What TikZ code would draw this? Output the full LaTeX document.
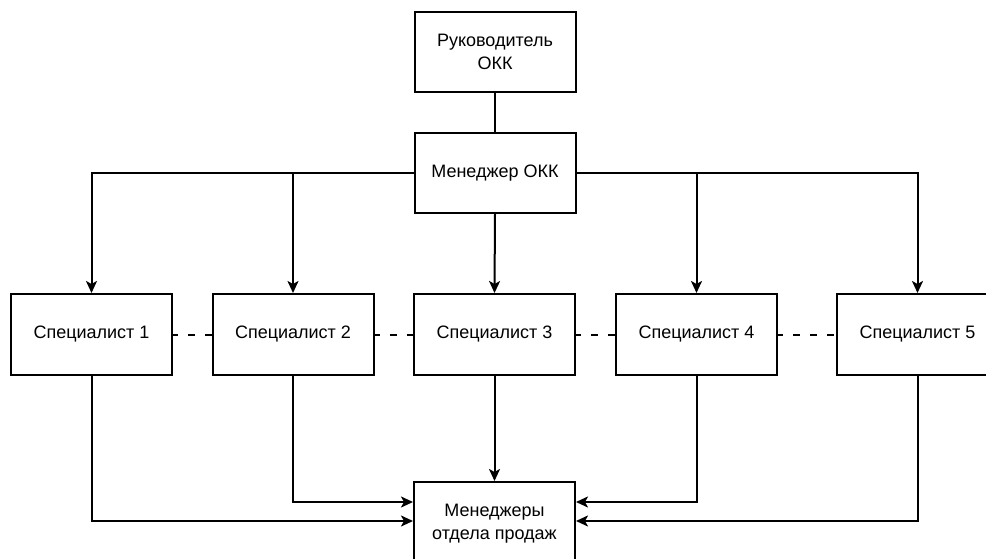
\documentclass[tikz,border=0pt]{standalone}
\usepackage{fontspec}
\setmainfont{Liberation Sans}
\usetikzlibrary{arrows.meta,calc}
\begin{document}
\begin{tikzpicture}[x=1pt,y=-1pt,
  box/.style={draw=black,line width=2pt,fill=white,rectangle,minimum width=161pt,minimum height=80pt,inner sep=0pt,font=\fontsize{18pt}{23pt}\selectfont,align=center},
  link/.style={draw=black,line width=2pt},
  arr/.style={link,-{Stealth[length=12pt,width=11pt,inset=3pt]}},
  dashlink/.style={link,dash pattern=on 7pt off 10pt,dash phase=2pt}
]
\useasboundingbox (0,0) rectangle (986,559);
\node[box] (ruk) at (495,52) {Руководитель\\ОКК};
\node[box] (man) at (495,173) {Менеджер ОКК};
\node[box,minimum height=81pt] (s1) at (91.5,334.5) {Специалист 1};
\node[box,minimum height=81pt] (s2) at (293,334.5) {Специалист 2};
\node[box,minimum height=81pt] (s3) at (494.5,334.5) {Специалист 3};
\node[box,minimum height=81pt] (s4) at (696.5,334.5) {Специалист 4};
\node[box,minimum height=81pt] (s5) at (917.5,334.5) {Специалист 5};
\node[box,minimum height=84pt] (mgrs) at (494.5,524) {Менеджеры\\отдела продаж};
\path (mgrs.north west) ++(0,21) coordinate (mL1) ++(0,19) coordinate (mL2);
\path (mgrs.north east) ++(0,21) coordinate (mR1) ++(0,19) coordinate (mR2);
\draw[link] (ruk.south) -- (man.north);
\draw[arr] (man.west) -| (s1.north);
\draw[arr] (man.west) -| (s2.north);
\draw[arr] (man.south) -- (s3.north);
\draw[arr] (man.east) -| (s4.north);
\draw[arr] (man.east) -| (s5.north);
\draw[dashlink] (s1.east) -- (s2.west);
\draw[dashlink] (s2.east) -- (s3.west);
\draw[dashlink] (s3.east) -- (s4.west);
\draw[dashlink] (s4.east) -- (s5.west);
\draw[arr] (s1.south) |- (mL2);
\draw[arr] (s2.south) |- (mL1);
\draw[arr] (s3.south) -- (mgrs.north);
\draw[arr] (s4.south) |- (mR1);
\draw[arr] (s5.south) |- (mR2);
\end{tikzpicture}
\end{document}
